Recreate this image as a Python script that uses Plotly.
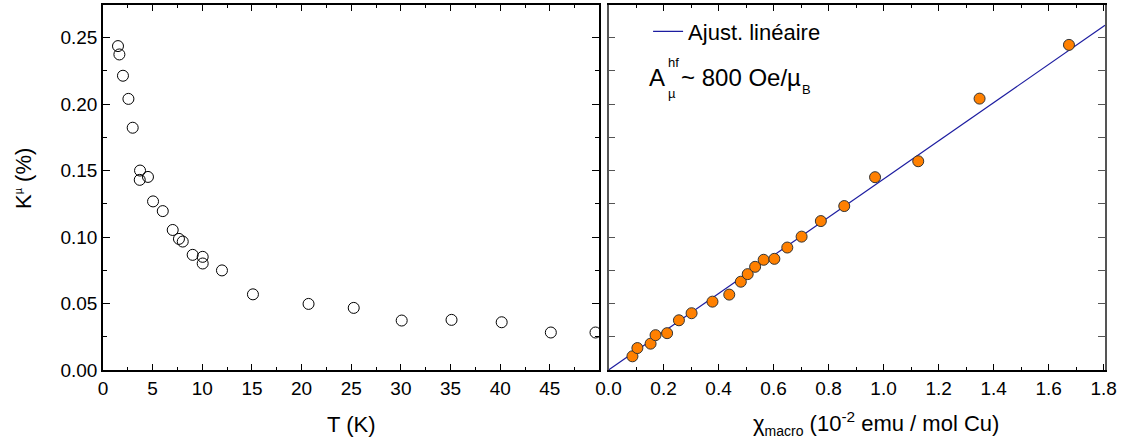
import plotly.graph_objects as go

# ---- Left panel: K^mu vs T ----
T_K = [1.51, 1.65, 2.01, 2.56, 2.99, 3.73, 3.70, 4.53, 5.04, 6.02, 7.02, 7.65, 8.03,
       9.03, 10.04, 10.04, 11.98, 15.1, 20.7, 25.25, 30.08, 35.1, 40.15, 45.1, 49.6]
K_T = [0.2436, 0.2373, 0.2213, 0.2039, 0.1822, 0.1500, 0.1430, 0.1452, 0.1268, 0.1195,
       0.1053, 0.0986, 0.0966, 0.0866, 0.0851, 0.0801, 0.0749, 0.0569, 0.0497, 0.0467,
       0.0372, 0.0377, 0.0359, 0.0282, 0.0282]

# ---- Right panel: K^mu vs chi_macro ----
chi = [0.087, 0.105, 0.153, 0.171, 0.213, 0.256, 0.302, 0.378, 0.439, 0.481, 0.506,
       0.533, 0.564, 0.603, 0.650, 0.702, 0.772, 0.857, 0.969, 1.126, 1.349, 1.674]
K_chi = [0.0103, 0.0165, 0.0198, 0.0262, 0.0277, 0.0374, 0.0427, 0.0514, 0.0567, 0.0664,
         0.0721, 0.0776, 0.0829, 0.0836, 0.0921, 0.1003, 0.1120, 0.1233, 0.1450, 0.1570,
         0.2041, 0.2445]

fit_x = [0.0, 1.805]
fit_y = [0.0, 0.2592]

FONT = "Liberation Sans, Arial, sans-serif"

fig = go.Figure()
fig.add_trace(go.Scatter(x=T_K, y=K_T, mode="markers", xaxis="x", yaxis="y",
                         marker=dict(symbol="circle-open", size=11, color="black",
                                     line=dict(width=1, color="black")),
                         showlegend=False))
fig.add_trace(go.Scatter(x=fit_x, y=fit_y, mode="lines", xaxis="x2", yaxis="y2",
                         line=dict(color="#1c1ca0", width=1.2),
                         name="Ajust. linéaire", showlegend=True))
fig.add_trace(go.Scatter(x=chi, y=K_chi, mode="markers", xaxis="x2", yaxis="y2",
                         marker=dict(symbol="circle", size=11, color="#ff8000",
                                     line=dict(width=1, color="#333333")),
                         showlegend=False))

Y_RANGE = [0, 0.2745]
tickfont = dict(family=FONT, size=19, color="black")

common_x = dict(showline=True, linecolor="black", linewidth=1.5, mirror="ticks",
                ticks="inside", ticklen=6, tickwidth=1, tickcolor="black",
                showgrid=False, zeroline=False, tickfont=tickfont)

fig.update_layout(
    width=1122, height=446,
    margin=dict(l=103, r=17, t=3, b=76),
    paper_bgcolor="white", plot_bgcolor="white",
    font=dict(family=FONT, color="black"),
    xaxis=dict(domain=[0, 0.495], range=[0, 49.95], dtick=5, anchor="y",
               minor=dict(dtick=2.5, ticks="inside", ticklen=3, tickcolor="black"),
               **common_x),
    yaxis=dict(domain=[0, 1], range=Y_RANGE, dtick=0.05, tickformat=".2f", anchor="x",
               showline=True, linecolor="black", linewidth=1.5, mirror="ticks",
               ticks="inside", ticklen=7, tickcolor="black", showgrid=False,
               zeroline=False, tickfont=tickfont,
               minor=dict(dtick=0.025, ticks="inside", ticklen=4, tickcolor="black")),
    xaxis2=dict(domain=[0.5045, 1], range=[0, 1.805], dtick=0.2, tickformat=".1f",
                anchor="y2",
                minor=dict(dtick=0.1, ticks="inside", ticklen=3, tickcolor="black"),
                **common_x),
    yaxis2=dict(domain=[0, 1], range=Y_RANGE, dtick=0.025, anchor="x2",
                showticklabels=False, showline=True, linecolor="#555555", linewidth=1.5,
                mirror="ticks", ticks="inside", ticklen=7, tickcolor="#555555",
                showgrid=False, zeroline=False),
    legend=dict(x=0.544, y=0.985, xanchor="left", yanchor="top",
                bgcolor="rgba(0,0,0,0)", borderwidth=0,
                font=dict(family=FONT, size=22, color="black")),
)

def px_x(p):
    return (p - 103) / 1002.0

def px_y(p):
    return (370 - p) / 367.0

ann = [
    dict(text="K<sup><span style='font-size:11px'>µ</span></sup> (%)", x=px_x(23),
         y=px_y(178), textangle=-90, size=22, xanchor="center", yanchor="middle"),
    dict(text="T (K)", x=px_x(351), y=px_y(425), size=22, xanchor="center", yanchor="middle"),
    dict(text="χ<sub><span style='font-size:14px'>macro</span></sub> (10<sup>-2</sup> emu / mol Cu)",
         x=px_x(876), y=px_y(424), size=22, xanchor="center", yanchor="middle"),
    dict(text="A", x=px_x(647), y=px_y(76), size=24, xanchor="left", yanchor="middle"),
    dict(text="hf", x=px_x(666), y=px_y(61), size=13, xanchor="left", yanchor="middle"),
    dict(text="µ", x=px_x(666), y=px_y(92), size=13, xanchor="left", yanchor="middle"),
    dict(text="~ 800 Oe/µ", x=px_x(679), y=px_y(76), size=24, xanchor="left", yanchor="middle"),
    dict(text="B", x=px_x(800), y=px_y(88), size=13, xanchor="left", yanchor="middle"),
]
for a in ann:
    fig.add_annotation(text=a["text"], x=a["x"], y=a["y"], xref="paper", yref="paper",
                       showarrow=False, xanchor=a["xanchor"], yanchor=a["yanchor"],
                       textangle=a.get("textangle", 0),
                       font=dict(family=FONT, size=a["size"], color="black"))

fig.write_html("out.html", config={"displayModeBar": False},
               post_script=["document.body.style.margin='0';"])
